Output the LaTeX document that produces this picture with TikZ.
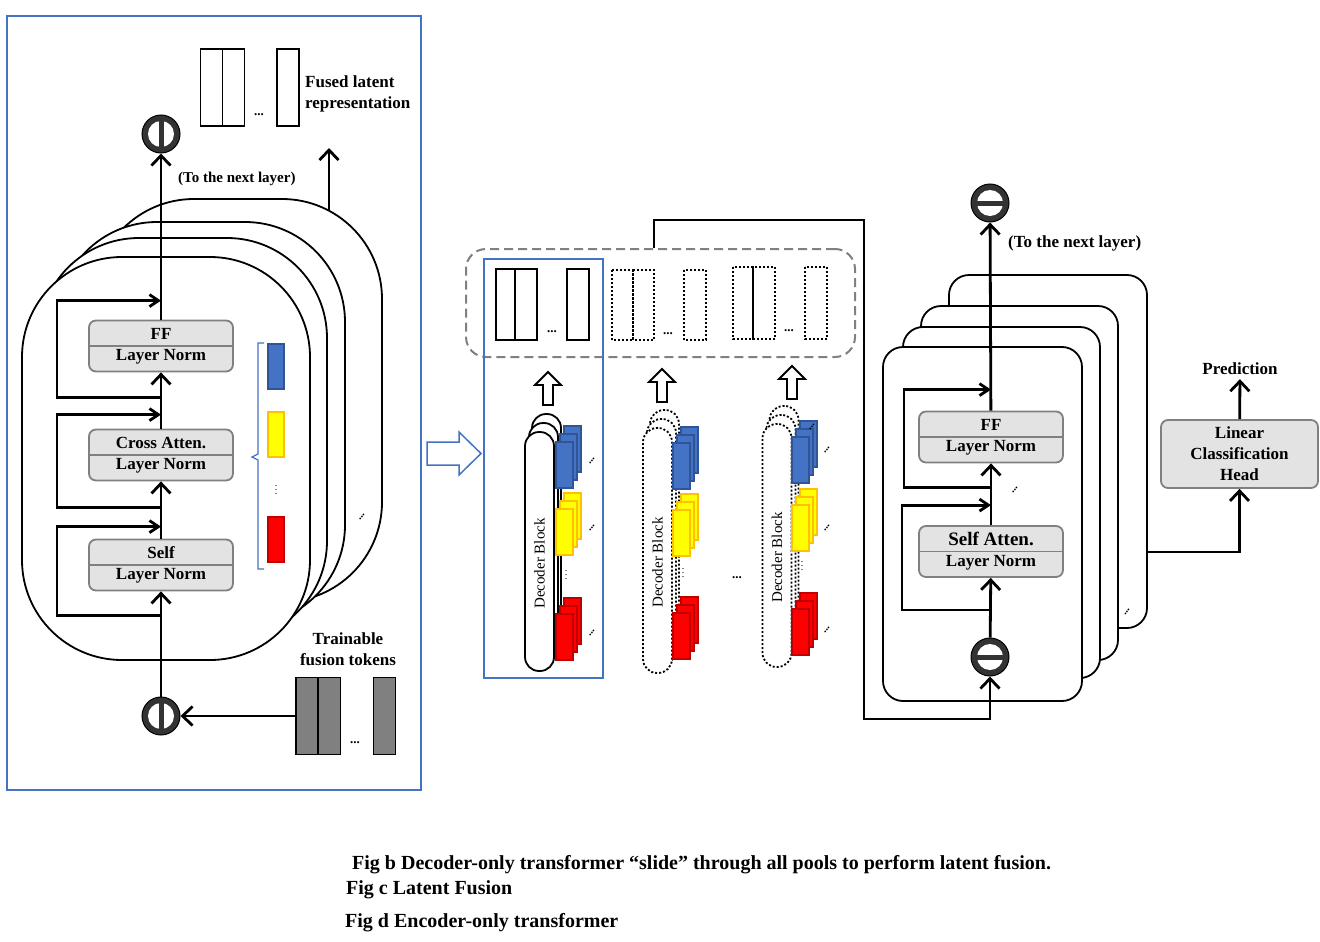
\documentclass[tikz,border=0pt]{standalone}
\usepackage{fontspec}
\setmainfont{Liberation Serif}
\usetikzlibrary{arrows.meta,positioning,calc}
\definecolor{FrameBlue}{RGB}{68,114,196}
\definecolor{BoxGray}{RGB}{227,227,227}
\definecolor{EdgeGray}{RGB}{128,128,128}
\definecolor{TokBlue}{RGB}{68,114,196}
\definecolor{TokBlueDark}{RGB}{47,85,151}
\definecolor{TokYellow}{RGB}{255,255,0}
\definecolor{TokOrange}{RGB}{255,192,0}
\definecolor{TokRed}{RGB}{255,0,0}
\definecolor{TokRedDark}{RGB}{192,0,0}
\definecolor{TokGray}{RGB}{128,128,128}
\definecolor{SumDark}{RGB}{51,51,51}

\begin{document}
\begin{tikzpicture}[x=1pt,y=-1pt,
  thickline/.style={line width=2.8pt},
  bigarrow/.style={thickline,-{Straight Barb[length=10pt,width=19pt]}},
  looparrow/.style={thickline,-{Straight Barb[length=9pt,width=12pt]}},
  stackline/.style={line width=1.8pt,fill=white},
  rstack/.style={draw,line width=1.8pt,fill=white,rounded corners=20pt,inner sep=0pt},
  layerbox/.style={draw=EdgeGray,line width=1.8pt,fill=BoxGray,rounded corners=7pt,
    minimum width=144pt,minimum height=51pt,inner sep=0pt,align=center,
    font=\fontsize{17}{21}\selectfont\bfseries},
  sumnode/.style={circle,draw=black,line width=1pt,fill=SumDark,minimum size=38pt,inner sep=0pt},
  vsum/.style={sumnode,path picture={
    \fill[white] (path picture bounding box.center) circle (13pt);
    \fill[SumDark] ([xshift=-2.5pt,yshift=-14pt]path picture bounding box.center)
      rectangle ([xshift=2.5pt,yshift=14pt]path picture bounding box.center);}},
  hsum/.style={sumnode,path picture={
    \fill[white] (path picture bounding box.center) circle (13pt);
    \fill[SumDark] ([xshift=-14pt,yshift=-2.5pt]path picture bounding box.center)
      rectangle ([xshift=14pt,yshift=2.5pt]path picture bounding box.center);}},
  lbl/.style={font=\fontsize{17}{21}\selectfont\bfseries,align=left,inner sep=0pt},
  capt/.style={font=\fontsize{20}{24}\selectfont\bfseries,anchor=west,inner sep=0pt},
  tokbox/.style={draw,line width=1.8pt,minimum width=22pt,minimum height=77pt,inner sep=0pt},
  capsule/.style={draw,line width=1.8pt,fill=white,minimum width=29pt,rounded corners=14pt,inner sep=0pt},
  dotline/.style={dash pattern=on 2pt off 2pt},
  smalldots/.style={font=\fontsize{13}{13}\selectfont\bfseries,inner sep=0pt},
  ddots/.style={font=\fontsize{11}{11}\selectfont\bfseries,rotate=55,inner sep=0pt},
  vdotsnode/.style={font=\fontsize{10}{10}\selectfont,inner sep=0pt}]
\useasboundingbox (0,0) rectangle (1320,942);

% ---------- left panel: latent fusion ----------
\draw[FrameBlue,line width=1.5pt] (7,16) rectangle (421,790);
\foreach \dx/\dy in {72/-58,35/-35,17/-19,0/0}
  \draw[stackline,rounded corners=100pt] (22+\dx,257+\dy) rectangle (310+\dx,660+\dy);
\node[ddots] (ldots) at (362,517) {...};

\node[layerbox] (lff) at (161,346) {FF\\Layer Norm};
\node[layerbox] (lcross) at (161,455) {Cross Atten.\\Layer Norm};
\node[layerbox] (lself) at (161,565) {Self\\Layer Norm};
\foreach \b in {lff,lcross,lself}
  \draw[EdgeGray,line width=1.8pt] (\b.west) -- (\b.east);

\node[vsum] (lsumtop) at (161,134) {};
\node[vsum] (lsumbot) at (161,716) {};
\draw[bigarrow] (lsumbot) -- (lself);
\draw[bigarrow] (lself) -- (lcross);
\draw[bigarrow] (lcross) -- (lff);
\draw[bigarrow] (lff) -- (lsumtop);
\draw[looparrow] ([yshift=-24pt]lself.south) -- ++(-104,0) |- ([yshift=12pt]lself.north);
\draw[looparrow] ([yshift=-26pt]lcross.south) -- ++(-104,0) |- ([yshift=14pt]lcross.north);
\draw[looparrow] ([yshift=-25pt]lff.south) -- ++(-104,0) |- ([yshift=19pt]lff.north);

\node[lbl,anchor=west,font=\fontsize{15}{18}\selectfont\bfseries] (lnext) at (178,179) {(To the next layer)};
\coordinate (lstacktop) at (329,211);
\coordinate (lfusedin) at (329,148);
\draw[bigarrow] (lstacktop) -- (lfusedin);

% fused latent representation
\node[tokbox] (lat1) at (211.5,87.5) {};
\node[tokbox] (lat2) at (233.5,87.5) {};
\node[tokbox] (lat3) at (288,87.5) {};
\node[smalldots] (latdots) at (259,115) {...};
\node[lbl,anchor=west] (latlbl) at (305,93.5) {Fused latent\\representation};

% modality tokens with brace
\draw[FrameBlue,line width=1.3pt] (264,343) -- (258,343) -- (258,454) -- (252,457) -- (258,460) -- (258,569) -- (264,569);
\draw[line width=2.5pt,draw=TokBlueDark,fill=TokBlue] (268,344) rectangle (284,389);
\draw[line width=2.5pt,draw=TokOrange,fill=TokYellow] (268,412) rectangle (284,457);
\draw[line width=2.5pt,draw=TokRedDark,fill=TokRed] (268,517) rectangle (284,562);
\node[vdotsnode] (lvd) at (276,487) {$\vdots$};

% trainable fusion tokens
\node[lbl,align=center] (trainlbl) at (348,649.5) {Trainable\\fusion tokens};
\node[tokbox,fill=TokGray] (tok1) at (307,716) {};
\node[tokbox,fill=TokGray] (tok2) at (329.5,716) {};
\node[tokbox,fill=TokGray] (tok3) at (384.5,716) {};
\node[smalldots] (tokdots) at (355,743) {...};
\draw[bigarrow] (tok1) -- (lsumbot);

% hollow arrow to the pools
\draw[FrameBlue,line width=1.5pt,fill=white] (427,442) -- (459,442) -- (459,432) -- (481,453.5)
  -- (459,475) -- (459,465) -- (427,465) -- cycle;

% ---------- middle: decoder sliding through pools ----------
\node[draw=EdgeGray,line width=2pt,dash pattern=on 9pt off 5pt,rounded corners=20pt,
  minimum width=389pt,minimum height=108pt,inner sep=0pt] (pool) at (660.5,303) {};
\draw[FrameBlue,line width=1.5pt] (484,259) rectangle (603,678);

\foreach \x/\w in {496/19,515/22,567/22}
  \draw[line width=1.8pt] (\x,269) rectangle ++(\w,71);
\foreach \x/\w in {612/21,633/21,684/22}
  \draw[line width=1.8pt,dotline] (\x,270) rectangle ++(\w,70);
\foreach \x/\w in {733/20,753/22,805/22}
  \draw[line width=1.8pt,dotline] (\x,267) rectangle ++(\w,72);
\draw[line width=1.8pt] (753,267) -- (753,339);
\node[smalldots] (pdots1) at (552,332) {...};
\node[smalldots] (pdots2) at (668,334) {...};
\node[smalldots] (pdots3) at (789,331) {...};

\foreach \cx/\yt in {548/372,662/369,792/366}
  \draw[line width=1.8pt,fill=white] (\cx-5,\yt+33) -- (\cx-5,\yt+13) -- (\cx-13,\yt+13)
    -- (\cx,\yt) -- (\cx+13,\yt+13) -- (\cx+5,\yt+13) -- (\cx+5,\yt+33) -- cycle;

\foreach \g/\cx/\cy/\h/\st/\tx/\bt/\yt/\rt in
  {1/539.5/551.5/239/solid/556/442/509/614,
   2/657.5/550.5/245/dotline/673/443/510/613,
   3/777/545.5/243/dotline/792/437/505/609}{
  \node[capsule,\st,minimum height=\h] (dec\g c) at (\cx+7,\cy-18) {};
  \node[capsule,\st,minimum height=\h] (dec\g b) at (\cx+4,\cy-9) {};
  \node[capsule,\st,minimum height=\h] (dec\g) at (\cx,\cy) {};
  \node[rotate=90,font=\fontsize{15}{18}\selectfont,inner sep=0pt] (dec\g txt)
    at ([yshift=-12pt]dec\g.center) {Decoder Block};
  \foreach \tp/\fc/\dc in {\bt/TokBlue/TokBlueDark,\yt/TokYellow/TokOrange,\rt/TokRed/TokRedDark}
    \foreach \k in {2,1,0}
      \draw[line width=1.2pt,draw=\dc,fill=\fc] (\tx+4*\k,\tp-8*\k) rectangle ++(17,46);
}
\node[vdotsnode] (mvd1) at (566,572) {$\vdots$};
\node[vdotsnode] (mvd2) at (683,570) {$\vdots$};
\node[vdotsnode] (mvd3) at (802,563) {$\vdots$};
\foreach \px/\py in {592/461,592/528,592/633,827/450,827/528,827/630,812/427}
  \node[ddots] at (\px,\py) {...};
\node[smalldots] (mdots) at (737,578) {...};

% ---------- right panel: encoder-only transformer ----------
\node[rstack,minimum width=198,minimum height=353] (rstack4) at (1048,451.5) {};
\node[rstack,minimum width=197,minimum height=354] (rstack3) at (1019.5,483) {};
\node[rstack,minimum width=197,minimum height=351] (rstack2) at (1001.5,502.5) {};
\node[rstack,minimum width=199,minimum height=354] (rstack1) at (982.5,524) {};
\node[ddots] (rdots1) at (1015,490) {...};
\node[ddots] (rdots2) at (1127,612) {...};

\node[layerbox] (rff) at (991,437) {FF\\Layer Norm};
\node[layerbox] (rself) at (991,551.5) {{\fontsize{19}{21}\selectfont Self Atten.}\\Layer Norm};
\foreach \b in {rff,rself}
  \draw[EdgeGray,line width=1.8pt] (\b.west) -- (\b.east);

\node[hsum] (rsumtop) at (990,203) {};
\node[hsum] (rsumbot) at (990,657) {};
\draw[bigarrow] (rsumbot) -- (rself);
\draw[bigarrow] (rself) -- (rff);
\draw[bigarrow] (rff) -- (rsumtop);
\draw[looparrow] ([yshift=-24pt]rff.south) -- ++(-87,0) |- ([yshift=21pt]rff.north);
\draw[looparrow] ([yshift=-32pt]rself.south) -- ++(-89,0) |- ([yshift=20pt]rself.north);
\node[lbl,anchor=west] (rnext) at (1008,243) {(To the next layer)};

\draw[bigarrow] ([xshift=-6.5pt]pool.north) -- ++(0,-28) -- ++(210,0) -- ++(0,499) -| (rsumbot);

\node[layerbox,minimum width=157pt,minimum height=68pt] (head) at (1239.5,454) {Linear\\Classification\\Head};
\node[lbl,inner sep=4pt] (pred) at (1240,369) {Prediction};
\draw[bigarrow] (head) -- (pred);
\draw[bigarrow] ([yshift=-100.5pt]rstack4.east) -| (head);

% ---------- captions ----------
\node[capt] (capb) at (352,865) {Fig b Decoder-only transformer “slide” through all pools to perform latent fusion.};
\node[capt] (capc) at (346,890) {Fig c Latent Fusion};
\node[capt] (capd) at (345,923) {Fig d Encoder-only transformer};
\end{tikzpicture}
\end{document}
